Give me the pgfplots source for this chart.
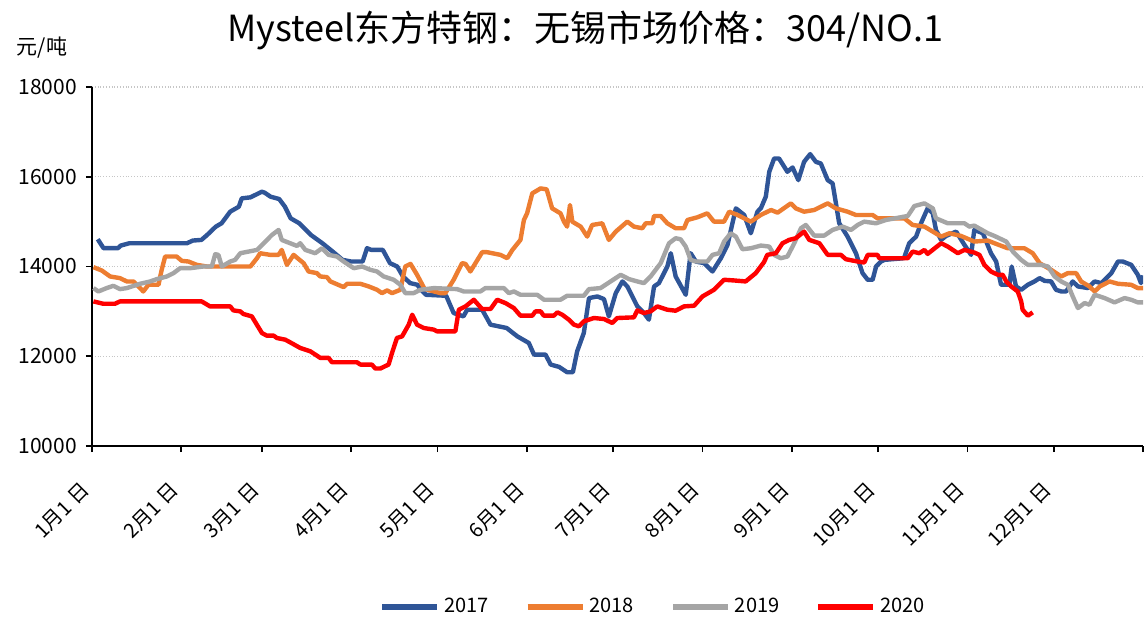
\documentclass[border=0pt]{standalone}
\usepackage{fontspec}
\setmainfont{Noto Sans CJK SC}
\usepackage{pgfplots}
\pgfplotsset{compat=1.18}
\definecolor{c17}{HTML}{2F5597}
\definecolor{c18}{HTML}{ED7D31}
\definecolor{c19}{HTML}{A5A5A5}
\definecolor{c20}{HTML}{FF0000}
\newcommand{\md}[1]{#1月1\kern0.25em 日}
\begin{document}
\begin{tikzpicture}
\begin{axis}[
  scale only axis, width=525.5pt, height=179.5pt,
  at={(0,0)}, anchor=south west,
  xmin=0, xmax=365, ymin=10000, ymax=18000,
  axis x line*=bottom, axis y line*=left,
  axis line style={line width=1pt, black},
  xtick={0,31,59,90,120,151,181,212,243,273,304,334,365},
  xticklabels={\md{1},\md{2},\md{3},\md{4},\md{5},\md{6},\md{7},\md{8},\md{9},\md{10},\md{11},\md{12},},
  ytick={10000,12000,14000,16000,18000},
  scaled y ticks=false,
  tick align=outside, major tick length=3pt,
  tick style={black, line width=0.8pt},
  /pgf/number format/assume math mode=true,
  /pgf/number format/1000 sep={},
  yticklabel style={font=\fontsize{10.5}{12}\selectfont, xshift=-1pt},
  xticklabel style={font=\fontsize{10}{12}\selectfont, rotate=45, anchor=east, yshift=-10pt, xshift=-11pt},
  ymajorgrids, grid style={densely dotted, gray!45, line width=0.6pt},
  every axis plot/.append style={line width=2.2pt, line join=round, no markers},
  legend columns=4,
  legend style={at={(281pt,-80.5pt)}, anchor=center, draw=none, font=\fontsize{10}{12}\selectfont,
    /tikz/every even column/.append style={column sep=16pt}},
  legend image code/.code={\draw[#1, line width=3pt] (0pt,0pt) -- (27.5pt,0pt);},
]
\addplot[c17] coordinates {
(2,14608)(4,14408)(9,14408)(10,14467)(13,14519)(33,14519)(35,14578)(38,14593)(40,14704)(43,14889)(45,14963)(48,15222)(51,15333)(52,15519)(55,15541)(59,15667)(60,15644)(62,15556)(65,15504)(67,15333)(69,15074)(70,15037)(72,14963)(76,14704)(80,14519)(84,14311)(87,14148)(90,14111)(94,14111)(95.5,14408)(97,14370)(101,14370)(103.5,14074)(106,14000)(108,13778)(110.5,13630)(113,13593)(114,13500)(116,13370)(123,13348)(125.6,12963)(129,12889)(130.3,13037)(135.5,13037)(138.4,12704)(144,12630)(147.7,12444)(151.7,12296)(153.5,12037)(157.5,12037)(159.3,11815)(162.2,11763)(165,11644)(167,11644)(168.5,12111)(170.8,12519)(172.6,13296)(175.5,13333)(177.8,13274)(179.5,12889)(181.9,13407)(184.2,13667)(185.9,13556)(189.4,13111)(191.7,12963)(193.4,12815)(195.2,13556)(196.9,13630)(199.8,14000)(201,14296)(202.7,13778)(206.2,13370)(207.9,14296)(209.7,14111)(212.6,14074)(215.5,13889)(218.4,14185)(220.7,14481)(223.6,15296)(226.5,15148)(228.8,14741)(231.1,15222)(232.3,15300)(234,15556)(235.2,16111)(236.9,16407)(238.6,16407)(241.5,16111)(243.3,16207)(245.3,15926)(247.3,16333)(249.4,16504)(251.4,16333)(253.1,16296)(255.5,15926)(257.2,15852)(259.5,14963)(262.4,14667)(265.3,14296)(267.6,13852)(269.4,13704)(271.1,13704)(272.3,14000)(274,14111)(275.2,14148)(282,14185)(283.8,14519)(286.2,14667)(287.9,14963)(290.2,15296)(292,15185)(293.1,14815)(294.9,14593)(296.6,14681)(300.1,14778)(303,14481)(305.3,14259)(306.4,14815)(309.4,14741)(312.2,14296)(314,14111)(315.7,13593)(318.6,13593)(319.4,14000)(320.9,13556)(322.7,13481)(325,13593)(327.3,13667)(329.1,13741)(330.8,13681)(333.1,13667)(334.8,13481)(336.6,13444)(338.3,13444)(340.6,13667)(342.4,13556)(345.9,13519)(348.2,13667)(350.5,13630)(354,13852)(356.3,14111)(358,14111)(360.9,14037)(363.2,13815)(364.3,13630)(365,13800)
};
\addlegendentry{2017}
\addplot[c18] coordinates {
(0.5,13985)(3.4,13911)(6.3,13778)(9.7,13741)(12.1,13667)(14.4,13667)(16.7,13519)(17.8,13444)(19.6,13593)(23.1,13593)(24.2,13926)(25.4,14222)(29.4,14222)(31.2,14126)(33.5,14111)(36.4,14037)(39.9,14000)(55,14000)(57.3,14185)(58.4,14296)(61.9,14259)(64.8,14259)(65.9,14370)(67.7,14037)(70,14259)(73.5,14074)(75.2,13889)(78.1,13852)(79.3,13778)(81.6,13763)(82.8,13667)(87.4,13541)(88.6,13615)(93.2,13615)(96.1,13556)(99,13481)(100.7,13407)(102.5,13467)(104.2,13407)(107.1,13481)(108.8,14000)(110.6,14059)(112.9,13815)(115.5,13500)(121,13407)(122.7,13407)(125.6,13704)(128.5,14074)(129.7,14059)(131.4,13889)(135.5,14319)(137.2,14319)(141.9,14259)(144.2,14185)(146,14370)(148.8,14593)(150,15037)(151.1,15185)(152.9,15630)(155.8,15741)(157.9,15719)(159.8,15296)(162.7,15185)(163.9,15000)(165,14889)(166,15370)(166.8,15000)(169.7,14889)(172,14667)(173.7,14926)(177.2,14963)(179.5,14593)(181.9,14778)(185.9,15000)(188.2,14889)(191.1,14852)(192.3,14963)(194.6,14963)(195.2,15126)(197.5,15126)(199.8,14963)(202.7,14852)(205.6,14852)(206.8,15037)(210.2,15096)(213.7,15185)(216,15000)(219.5,15000)(221.3,15222)(224.2,15148)(228.8,15000)(232.3,15150)(235.8,15259)(238.1,15200)(242.7,15407)(244.4,15296)(247.3,15222)(250.8,15259)(255.5,15407)(258.3,15296)(262.4,15222)(265.3,15148)(271.1,15148)(272.8,15074)(282.1,15074)(285,14926)(289.1,14889)(292,14778)(294.9,14667)(297.8,14741)(301.8,14681)(306.4,14556)(311.1,14578)(313.4,14519)(318,14407)(323.8,14407)(326.7,14296)(329.1,14074)(333.1,13926)(336.6,13778)(338.9,13852)(341.8,13852)(343.5,13667)(346.4,13556)(348.2,13444)(350,13556)(353.4,13667)(356.3,13615)(360.9,13593)(363.2,13519)(365,13519)
};
\addlegendentry{2018}
\addplot[c19] coordinates {
(0.5,13519)(2.2,13444)(5.1,13519)(7.4,13570)(9.7,13496)(12.1,13519)(16.7,13615)(20.2,13667)(22.5,13719)(26,13778)(28.3,13852)(30.6,13963)(34.1,13963)(38.7,14000)(41.6,14000)(42.8,14274)(43.9,14259)(45.1,14000)(48,14111)(49.7,14148)(51.5,14296)(54.4,14333)(57.3,14370)(60.2,14556)(62.5,14704)(64.8,14815)(65.9,14593)(68.8,14519)(71.2,14459)(72.3,14519)(74.1,14370)(77.5,14296)(79.9,14407)(82.2,14259)(85.1,14222)(87.4,14111)(90.9,13963)(93.8,14000)(96.7,13926)(99,13889)(101.3,13778)(104.8,13704)(107.1,13593)(108.8,13407)(111.7,13407)(114,13481)(118.7,13519)(126.8,13496)(129.1,13444)(134.9,13444)(136.6,13519)(143,13519)(144.8,13407)(146.5,13444)(148.8,13370)(154.6,13370)(157,13259)(162.7,13259)(165,13348)(170.8,13348)(172.6,13496)(176.6,13519)(180.1,13667)(183.6,13815)(186.5,13719)(189.4,13667)(191.7,13630)(194,13778)(197.5,14074)(200.4,14519)(202.7,14630)(204.4,14607)(206.2,14444)(207.9,14148)(209.7,14111)(213.7,14111)(215.5,14259)(217.8,14296)(219.5,14556)(221.8,14741)(223.6,14667)(225.9,14385)(228.8,14407)(232.3,14467)(235.2,14444)(236.9,14259)(239.2,14185)(241.5,14222)(243.9,14519)(246.2,14852)(247.9,14926)(250.8,14689)(254.3,14689)(257.2,14815)(260.7,14889)(263.6,14815)(265.9,14926)(268.2,15000)(272.3,14963)(275.7,15037)(283.3,15126)(285.6,15348)(289.1,15407)(292,15296)(293.1,15074)(297.2,14963)(303,14963)(304.7,14889)(306.4,14911)(311.1,14741)(313.4,14681)(317.5,14556)(319.8,14333)(322.7,14148)(325,14037)(329.6,14037)(332,14000)(334.3,13778)(336.6,13667)(338.9,13593)(340.6,13333)(342.4,13074)(344.7,13185)(346.4,13148)(348.2,13370)(351.7,13296)(355.1,13200)(358.6,13296)(360.9,13259)(363.2,13200)(365,13200)
};
\addlegendentry{2019}
\addplot[c20] coordinates {
(0.5,13222)(3.9,13170)(8,13170)(9.7,13222)(38.1,13222)(41,13111)(48,13111)(49.1,13022)(51.5,13000)(52.6,12941)(55.5,12889)(59,12519)(60.7,12459)(63.1,12459)(64.2,12407)(67.1,12370)(68.8,12311)(72.3,12185)(75.8,12111)(79.3,11963)(82.2,11963)(83.3,11867)(92,11867)(93.2,11815)(97.2,11815)(98.4,11726)(100.1,11726)(103,11815)(104.2,12074)(105.9,12407)(107.7,12444)(110,12704)(111.2,12926)(112.9,12704)(115.2,12630)(118.7,12593)(119.8,12556)(126.2,12556)(127.4,13037)(129.7,13111)(132.6,13259)(135.5,13052)(138.4,13052)(140.7,13259)(143.6,13185)(146.5,13074)(148.8,12904)(152.9,12904)(154,13000)(155.8,13000)(156.9,12904)(160.4,12904)(161.6,12978)(163.3,12926)(165.6,12815)(167.4,12704)(169.1,12667)(170.8,12778)(174.3,12852)(177.8,12830)(180.7,12741)(182.4,12852)(188.2,12867)(189.4,13022)(191.7,12963)(194,13000)(196.3,13111)(199.8,13037)(202.7,13015)(205.6,13111)(209.1,13126)(212,13333)(216,13481)(219.5,13704)(223,13689)(227,13667)(230.5,13852)(233.4,14100)(234.5,14259)(237.5,14296)(239.8,14519)(242.1,14593)(244.4,14630)(247.3,14778)(249.1,14593)(252.6,14519)(255.5,14259)(260.1,14259)(261.8,14163)(265.9,14111)(268.2,14089)(269.4,14259)(272.8,14259)(273.4,14185)(283.3,14185)(285,14333)(287.3,14296)(289.1,14370)(290.2,14281)(294.9,14519)(297.2,14444)(300.7,14296)(303,14370)(306.4,14311)(308.2,14259)(309.9,14037)(312.2,13889)(314.6,13815)(316.3,13815)(317.5,13667)(319.2,13556)(321.5,13444)(322.7,13222)(323.2,13037)(325,12904)(326.7,12978)
};
\addlegendentry{2020}
\end{axis}
\node[font=\fontsize{18}{21}\selectfont] at (246.5pt,208pt) {Mysteel东方特钢：无锡市场价格：304/NO.1};
\node[font=\fontsize{10.5}{12}\selectfont] at (-25pt,199pt) {元/吨};
\pgfresetboundingbox
\path[use as bounding box] (-46pt,-87.5pt) rectangle (527pt,223pt);
\end{tikzpicture}
\end{document}
